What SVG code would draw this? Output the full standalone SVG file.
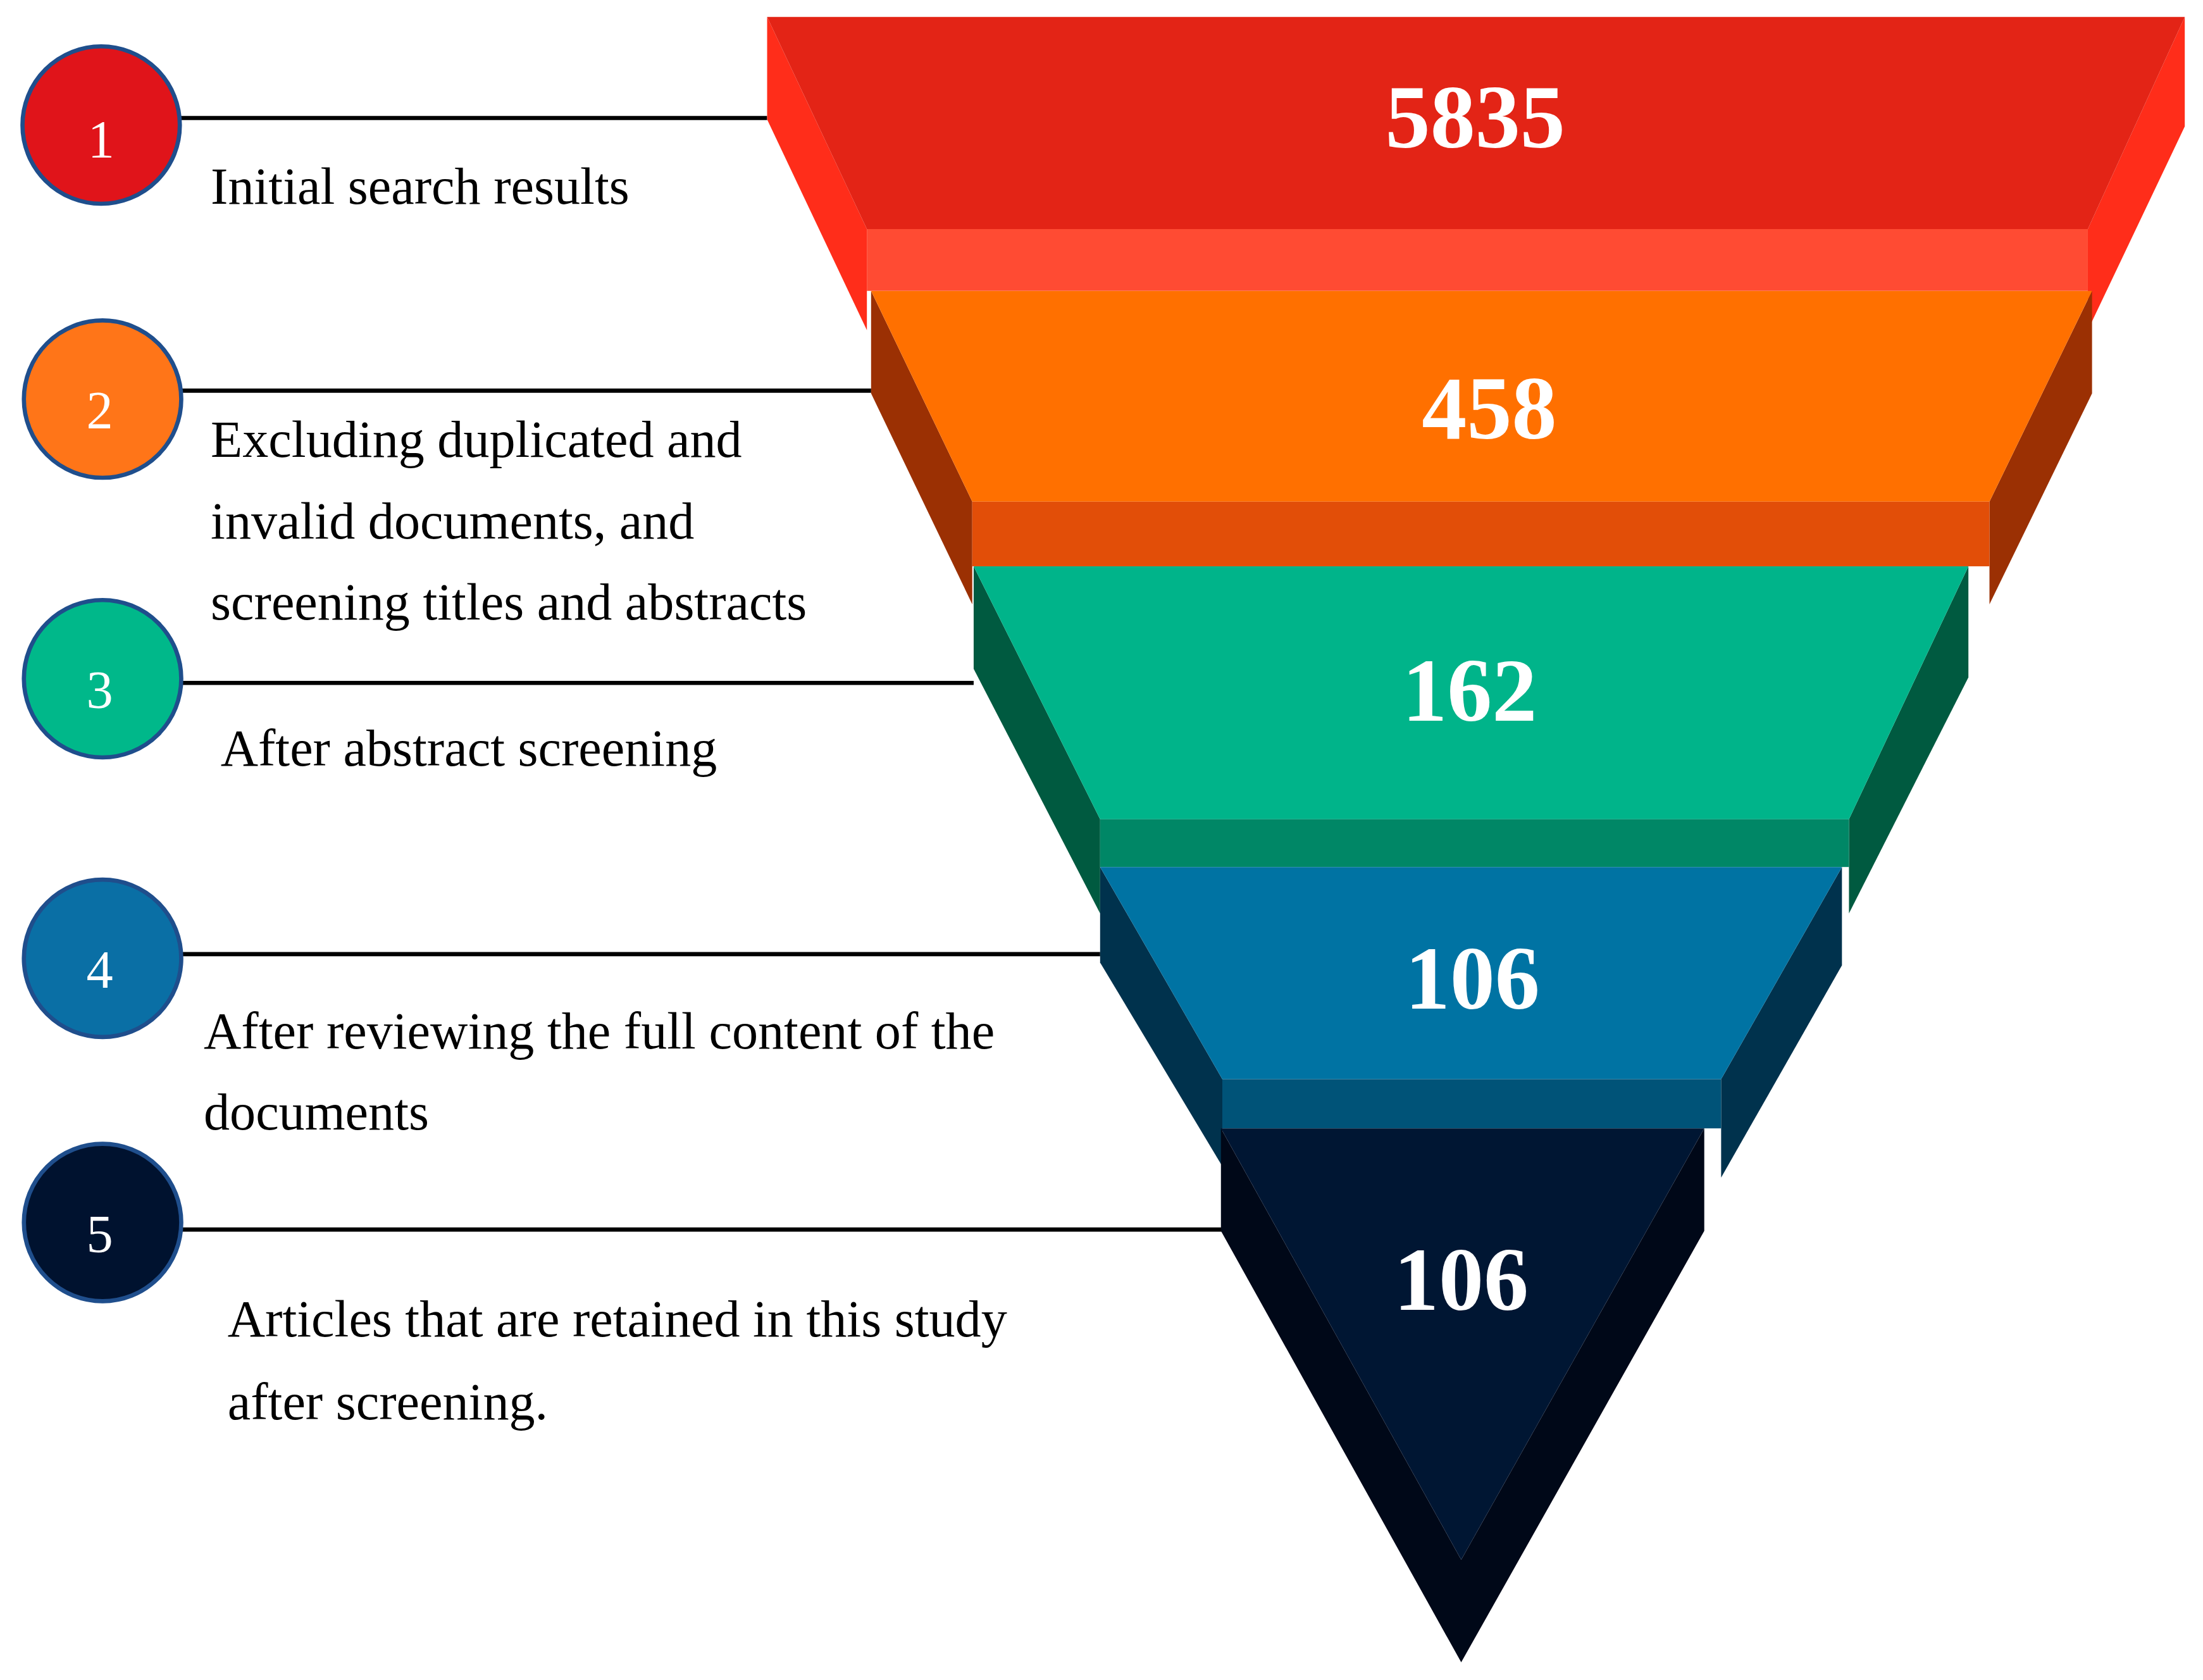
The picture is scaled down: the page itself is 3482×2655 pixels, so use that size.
<svg xmlns="http://www.w3.org/2000/svg" width="3482" height="2655" viewBox="0 0 3482 2655">
<style>
.lbl{font-family:"Liberation Serif","DejaVu Serif",serif;font-size:37px;fill:#000}
.num{font-family:"Liberation Serif","DejaVu Serif",serif;font-size:64px;font-weight:bold;fill:#fff;text-anchor:middle}
.cn{font-family:"Liberation Serif","DejaVu Serif",serif;font-size:38px;fill:#fff;text-anchor:middle}
.c{stroke:#1f4e8c;stroke-width:3}
.ln{stroke:#000;stroke-width:3;fill:none}
</style>
<rect width="3482" height="2655" fill="#fff"/>
<g transform="scale(2.2207)">
<g id="connectors">
<line class="ln" x1="128" y1="84" x2="546" y2="84"/>
<line class="ln" x1="128" y1="278" x2="620" y2="278"/>
<line class="ln" x1="128" y1="486" x2="693" y2="486"/>
<line class="ln" x1="128" y1="679" x2="783" y2="679"/>
<line class="ln" x1="128" y1="875" x2="905" y2="875"/>
</g>
<g id="stage1">
<polygon points="546,12 546,85 617,235 617,163" fill="#ff2d1a"/>
<polygon points="1555,12 1555,90 1486,235 1486,163" fill="#ff2d1a"/>
<polygon points="546,12 1555,12 1486,163 617,163" fill="#e32416"/>
<rect x="617" y="163" width="869" height="44" fill="#ff4b33"/>
<text class="num" x="1050" y="105">5835</text>
</g>
<g id="stage2">
<polygon points="620,207 692,357 692,430 620,280" fill="#9b3003"/>
<polygon points="1489,207 1489,280 1416,430 1416,357" fill="#9b3003"/>
<polygon points="620,207 1489,207 1416,357 692,357" fill="#ff7000"/>
<rect x="692" y="357" width="724" height="46" fill="#e24e08"/>
<text class="num" x="1060" y="312">458</text>
</g>
<g id="stage3">
<polygon points="693,403 783,583 783,650 693,476" fill="#005a40"/>
<polygon points="1401,403 1401,482 1316,650 1316,583" fill="#005a40"/>
<polygon points="693,403 1401,403 1316,583 783,583" fill="#00b48a"/>
<rect x="783" y="583" width="533" height="34" fill="#008766"/>
<text class="num" x="1046" y="513">162</text>
</g>
<g id="stage4">
<polygon points="783,617 870,768 870,830 783,685" fill="#00324d"/>
<polygon points="1311,617 1311,687 1225,838 1225,768" fill="#00324d"/>
<polygon points="783,617 1311,617 1225,768 870,768" fill="#0073a3"/>
<rect x="870" y="768" width="355" height="35" fill="#005378"/>
<text class="num" x="1048" y="718">106</text>
</g>
<g id="stage5">
<polygon points="869,803 869,876 1040,1183 1213,876 1213,803 1040,1110" fill="#000818"/>
<polygon points="869,803 1213,803 1040,1110" fill="#001633"/>
<text class="num" x="1040" y="932">106</text>
</g>
<g id="step1"><circle class="c" cx="72" cy="89" r="56" fill="#e0141a"/><text class="cn" x="72" y="112">1</text>
<text class="lbl" x="150" y="145">Initial search results</text></g>
<g id="step2"><circle class="c" cx="73" cy="284" r="56" fill="#ff7518"/><text class="cn" x="71" y="305">2</text>
<text class="lbl" x="150" y="325">Excluding duplicated and</text>
<text class="lbl" x="150" y="383">invalid documents, and</text>
<text class="lbl" x="150" y="441">screening titles and abstracts</text></g>
<g id="step3"><circle class="c" cx="73" cy="483" r="56" fill="#00b88a"/><text class="cn" x="71" y="504">3</text>
<text class="lbl" x="157" y="545">After abstract screening</text></g>
<g id="step4"><circle class="c" cx="73" cy="682" r="56" fill="#0a6fa5"/><text class="cn" x="71" y="703">4</text>
<text class="lbl" x="145" y="746">After reviewing the full content of the</text>
<text class="lbl" x="145" y="804">documents</text></g>
<g id="step5"><circle class="c" cx="73" cy="870" r="56" fill="#00122f"/><text class="cn" x="71" y="891">5</text>
<text class="lbl" x="162" y="951">Articles that are retained in this study</text>
<text class="lbl" x="162" y="1010">after screening.</text></g>
</g>
</svg>
